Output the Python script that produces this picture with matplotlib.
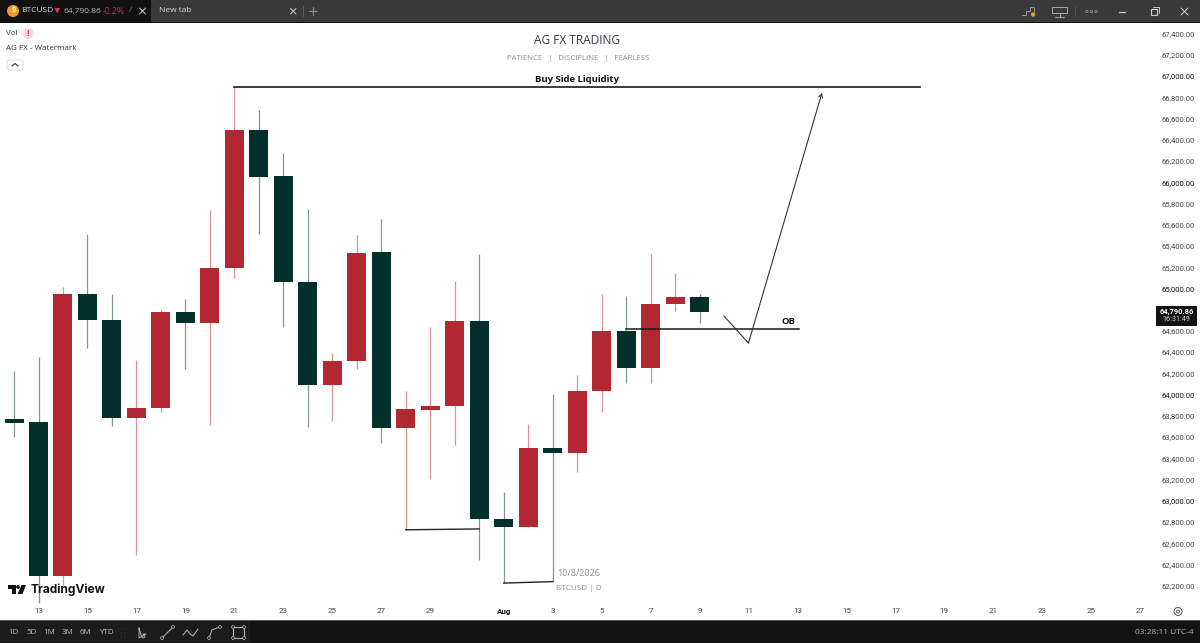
import matplotlib
matplotlib.use("Agg")
import matplotlib.pyplot as plt
from matplotlib.patches import Rectangle, Polygon, Circle, FancyBboxPatch

plt.rcParams['font.family'] = ['Open Sans', 'DejaVu Sans']

# ---- data (day index 0 = 13 Jul) ----
days = list(range(-1, 28))
opens = [63770, 63739, 62291, 64950, 64705, 63782, 63871, 64781, 64674, 65195, 66492, 66055, 65063,
         64090, 64313, 65340, 63688, 63858, 63895, 64693, 62831, 62753, 63500, 63450, 64037, 64599,
         64250, 64853, 64919]
closes = [63735, 62291, 64950, 64702, 63782, 63874, 64781, 64677, 65195, 66492, 66052, 65063, 64090,
          64316, 65333, 63688, 63864, 63895, 64693, 62831, 62753, 63500, 63450, 64037, 64599, 64250,
          64858, 64919, 64778]
highs = [64222, 64357, 65010, 65512, 64950, 64326, 64806, 64903, 65738, 66894, 66680, 66275, 65748,
         64389, 65506, 65654, 64034, 64636, 65070, 65327, 63085, 63726, 64005, 64184, 64947, 64928,
         65324, 65145, 64952]
lows = [63603, 62037, 62206, 64436, 63707, 62489, 63839, 64241, 63713, 65095, 65512, 64634, 63697,
        63751, 64238, 63547, 62727, 63205, 63525, 62442, 62225, 62753, 62237, 63274, 63836, 64109,
        64109, 64787, 64674]

price_ticks = list(range(62200, 67600, 200))
date_tick_pos = [0, 2, 4, 6, 8, 10, 12, 14, 16, 19, 21, 23, 25, 27, 29, 31, 33, 35, 37, 39, 41, 43, 45]
date_tick_labels = ['13', '15', '17', '19', '21', '23', '25', '27', '29', 'Aug', '3', '5', '7', '9',
                    '11', '13', '15', '17', '19', '21', '23', '25', '27']

buy_side_x = [8, 36]
buy_side_y = [66894, 66894]
ob_x = [24, 31.05]
ob_y = [64618, 64618]
low_a_x = [15, 18]
low_a_y = [62727, 62735]
low_b_x = [19, 21]
low_b_y = [62225, 62239]
path_x = [28, 29, 32]
path_y = [64740, 64486, 66841]

RED = '#b32733'
DARK = '#03302a'
W, H = 1200, 643

fig = plt.figure(figsize=(12, 6.43), dpi=100, facecolor='white')
L, R, T, B = 0, 1148, 23, 621
ax = fig.add_axes([L / W, 1 - B / H, (R - L) / W, (B - T) / H])
ax.set_xlim(-1.573, 45.32)
ax.set_ylim(61868, 67500)
for s in ax.spines.values():
    s.set_visible(False)

for d, o, c, h, l in zip(days, opens, closes, highs, lows):
    col = RED if c >= o else DARK
    ax.vlines(d, l, h, color=col, lw=0.9, alpha=0.5, zorder=2)
    ax.bar(d, abs(c - o), bottom=min(o, c), width=0.776, color=col, lw=0, zorder=3)

ax.plot(buy_side_x, buy_side_y, color='#1a1a1a', lw=1.2, zorder=4)
ax.plot(ob_x, ob_y, color='#1a1a1a', lw=1.1, zorder=4)
ax.plot(low_a_x, low_a_y, color='#222222', lw=1.0, zorder=4)
ax.plot(low_b_x, low_b_y, color='#222222', lw=1.0, zorder=4)
ax.plot(path_x[:2], path_y[:2], color='#333333', lw=0.8, zorder=4)
ax.annotate('', xy=(path_x[2], path_y[2]), xytext=(path_x[1], path_y[1]),
            arrowprops=dict(arrowstyle='->,head_length=0.25,head_width=0.14', color='#333333', lw=0.8,
                            shrinkA=0, shrinkB=0), zorder=4)

ax.yaxis.tick_right()
ax.set_yticks(price_ticks)
ax.set_yticklabels([f'{p:,.2f}' for p in price_ticks], fontsize=5.5, family='Roboto')
for lab, p in zip(ax.get_yticklabels(), price_ticks):
    lab.set_color('#111111' if p % 1000 == 0 else '#444444')
ax.tick_params(axis='y', length=0, pad=9.5)
ax.set_xticks(date_tick_pos)
ax.set_xticklabels(date_tick_labels, fontsize=5.8, family='Roboto')
for lab, t in zip(ax.get_xticklabels(), date_tick_labels):
    lab.set_color('#111111' if t == 'Aug' else '#444444')
    if t == 'Aug':
        lab.set_fontweight('bold')
ax.tick_params(axis='x', length=0, pad=-9.5)

# ---- overlay in pixel coordinates: title texts and window frame ----
ov = fig.add_axes([0, 0, 1, 1], facecolor='none')
ov.set_xlim(0, W)
ov.set_ylim(H, 0)
ov.axis('off')


def txt(x, y, s, size=6.5, color='#333333', ha='left', weight='normal', family=None):
    kw = dict(family=family) if family else {}
    ov.text(x, y, s, fontsize=size, color=color, ha=ha, va='center', fontweight=weight, **kw)


def ln(xs, ys, color='#bbbbbb', lw=0.9):
    ov.plot(xs, ys, color=color, lw=lw, solid_capstyle='round')


txt(577, 41, 'AG FX TRADING', 8.6, '#333a44', 'center')
txt(578, 58, 'PATIENCE   |   DISCIPLINE   |   FEARLESS', 5.6, '#8a8f98', 'center')
txt(577, 79, 'Buy Side Liquidity', 6.8, '#111111', 'center', 'bold')
txt(788, 321, 'OB', 6.8, '#111111', 'center', 'bold')
txt(579, 574, '10/8/2026', 6.5, '#8a8f98', 'center')
txt(579, 588, 'BTCUSD | D', 5.9, '#8a8f98', 'center')

# legend
txt(6, 33.5, 'Vol', 5.8, '#333333')
ov.add_patch(Circle((28, 33.5), 5.5, color='#fbd9dc', lw=0))
txt(28, 33.5, '!', 5.8, '#d8323f', 'center', 'bold')
txt(6, 49, 'AG FX - Watermark', 5.8, '#333333')
ov.add_patch(FancyBboxPatch((7, 60), 16, 10, boxstyle='round,pad=0,rounding_size=2', fc='white', ec='#e0e0e0', lw=0.7))
ln([12, 15, 18], [66, 63.5, 66], '#333333', 0.8)

# logo
ov.add_patch(Polygon([(7.5, 585), (15.5, 585), (15.5, 594), (11.5, 594), (11.5, 589), (7.5, 589)], color='#111111', lw=0))
ov.add_patch(Circle((18, 587), 1.9, color='#111111', lw=0))
ov.add_patch(Polygon([(21.5, 585), (26, 585), (22.5, 594), (17.5, 594)], color='#111111', lw=0))
txt(31, 589.5, 'TradingView', 8.6, '#131313', weight='bold', family='Inter')

# price label
ov.add_patch(Rectangle((1156, 306), 41, 20, color='#131313', lw=0))
txt(1176.5, 311.5, '64,790.86', 5.4, 'white', 'center', 'bold', family='Roboto')
txt(1176.5, 319.8, '16:31:49', 5.2, '#d5d5d5', 'center', family='Roboto')

# settings glyph
ov.add_patch(Circle((1178, 611.5), 4, fc='none', ec='#555555', lw=0.7))
ov.add_patch(Circle((1178, 611.5), 1.5, fc='none', ec='#555555', lw=0.6))

# top bar
ov.add_patch(Rectangle((0, 0), W, 22, color='#3a3a3a', lw=0))
ov.add_patch(Rectangle((0, 0), 151, 22, color='#111111', lw=0))
ov.add_patch(Rectangle((0, 22), W, 1.4, color='#0d0d0d', lw=0))
ov.add_patch(Circle((13, 11), 6, color='#ef9a2d', lw=0))
txt(13, 11, '₿', 5.5, 'white', 'center', family=['Noto Sans', 'Roboto', 'Open Sans', 'Lato', 'Inter', 'Liberation Sans', 'DejaVu Sans'])
txt(21.5, 11, 'BTCUSD', 6.0, '#d8d8d8')
ov.add_patch(Polygon([(54.5, 8), (60, 8), (57.2, 13.5)], color='#e0364a', lw=0))
txt(64, 11, '64,790.86', 6.0, '#b8b8b8')
txt(103, 11, '-0.2%', 6.2, '#c9323f')
txt(129, 11, '/', 6.0, '#888888')
ln([139.5, 145.5], [8, 14], '#cfcfcf', 0.7)
ln([139.5, 145.5], [14, 8], '#cfcfcf', 0.7)
txt(159, 11, 'New tab', 6.0, '#dddddd')
ln([290.5, 296], [8.5, 14], '#cfcfcf', 0.7)
ln([290.5, 296], [14, 8.5], '#cfcfcf', 0.7)
ln([302.5, 302.5], [6, 16], '#666666', 0.6)
ln([313, 313], [7, 15], '#888888')
ln([309, 317], [11, 11], '#888888')
ln([1022, 1026, 1026, 1030, 1030, 1034, 1034], [15, 15, 11, 11, 7, 7, 12], '#999999', 0.7)
ov.add_patch(Circle((1033, 14.5), 2.2, color='#ef9a2d', lw=0))
ln([1052, 1067], [7, 7], '#aaaaaa', 0.7)
ln([1052, 1052, 1067, 1067], [7, 13, 13, 7], '#aaaaaa', 0.7)
ln([1059.5, 1059.5], [13, 17], '#aaaaaa', 0.7)
ln([1055, 1064], [17, 17], '#aaaaaa', 0.7)
ln([1074.5, 1074.5], [6, 16], '#555555', 0.6)
for cx in (1087, 1091.5, 1096):
    ov.add_patch(Circle((cx, 11.5), 1.2, fc='none', ec='#999999', lw=0.5))
ln([1119, 1125], [11.5, 11.5], '#cccccc')
ov.add_patch(Rectangle((1151, 9), 6, 6, fc='none', ec='#cccccc', lw=0.8))
ln([1153, 1159, 1159], [7, 7, 13], '#cccccc', 0.7)
ln([1181, 1188], [8, 15], '#cccccc', 0.7)
ln([1181, 1188], [15, 8], '#cccccc', 0.7)

# bottom bar
ov.add_patch(Rectangle((0, 621), W, 22, color='#131313', lw=0))
ov.add_patch(Rectangle((0, 621), 117, 22, color='#1c1c1c', lw=0))
ov.add_patch(Rectangle((117, 621), 133, 22, color='#1b1b1b', lw=0))
ov.add_patch(Rectangle((0, 620.2), W, 1.0, color='#555555', lw=0))
for x, s in zip((14, 31.5, 49.5, 67.5, 85.5, 106), ('1D', '5D', '1M', '3M', '6M', 'YTD')):
    txt(x, 633, s, 5.8, '#bdbdbd', 'center')
for cx in (121.5, 125):
    for cy in (629, 633, 637):
        ov.add_patch(Circle((cx, cy), 0.5, color='#444444', lw=0))
ln([139, 139, 146, 143, 145, 143, 141, 139], [628, 638, 634, 634, 637, 638, 635, 628], '#aaaaaa', 0.7)
ln([162, 173], [638, 627], '#aaaaaa', 0.8)
ov.add_patch(Circle((162, 638), 1.4, fc='#1b1b1b', ec='#aaaaaa', lw=0.6, zorder=5))
ov.add_patch(Circle((173, 627), 1.4, fc='#1b1b1b', ec='#aaaaaa', lw=0.6, zorder=5))
ln([183, 187, 190, 193, 198], [635, 630, 634, 636, 629], '#aaaaaa', 0.8)
ln([209, 212, 217, 221], [638, 630, 628, 627], '#aaaaaa', 0.8)
ov.add_patch(Circle((209, 638), 1.4, fc='#1b1b1b', ec='#aaaaaa', lw=0.6, zorder=5))
ov.add_patch(Circle((220, 627), 1.4, fc='#1b1b1b', ec='#aaaaaa', lw=0.6, zorder=5))
ov.add_patch(Rectangle((233, 627), 11, 11, fc='none', ec='#aaaaaa', lw=0.9))
for cx, cy in ((233, 627), (244, 627), (233, 638), (244, 638)):
    ov.add_patch(Circle((cx, cy), 1.4, fc='#1b1b1b', ec='#aaaaaa', lw=0.6, zorder=5))
txt(1194, 633, '03:28:11 UTC-4', 6.0, '#b5b5b5', 'right')

fig.savefig('out.png', dpi=100)
